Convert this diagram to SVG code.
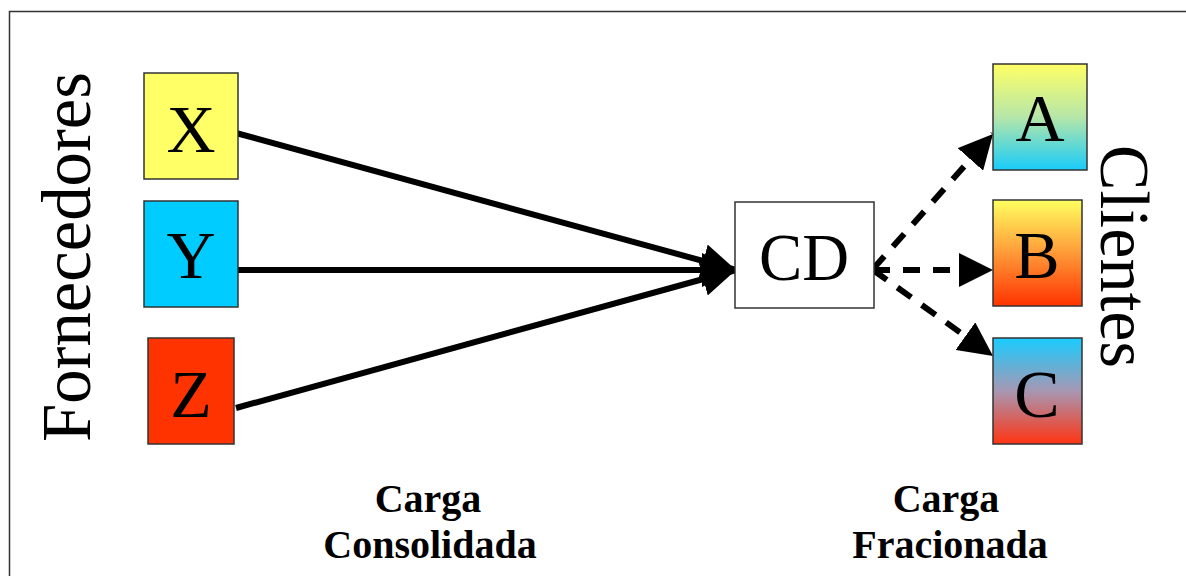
<svg xmlns="http://www.w3.org/2000/svg" width="1186" height="576" viewBox="0 0 1186 576">
  <defs>
    <linearGradient id="gradA" x1="0" y1="0" x2="0" y2="1">
      <stop offset="0" stop-color="#ffff66"/>
      <stop offset="0.5" stop-color="#b6e6a8"/>
      <stop offset="1" stop-color="#19ccf9"/>
    </linearGradient>
    <linearGradient id="gradB" x1="0" y1="0" x2="0" y2="1">
      <stop offset="0" stop-color="#ffff60"/>
      <stop offset="0.5" stop-color="#ff9a38"/>
      <stop offset="1" stop-color="#ff3300"/>
    </linearGradient>
    <linearGradient id="gradC" x1="0" y1="0" x2="0" y2="1">
      <stop offset="0" stop-color="#19ccff"/>
      <stop offset="0.5" stop-color="#a797b3"/>
      <stop offset="1" stop-color="#ff3311"/>
    </linearGradient>
    <marker id="head" viewBox="0 0 10 10" refX="10" refY="5" markerWidth="34" markerHeight="34" markerUnits="userSpaceOnUse" orient="auto">
      <path d="M0,0 L10,5 L0,10 Z" fill="#000"/>
    </marker>
    <style>
      .box { stroke: #333; stroke-width: 1.5; }
      .letter { font-family: "Liberation Serif", "Times New Roman", serif; font-size: 68px; text-anchor: middle; fill: #000; }
      .side { font-family: "Liberation Serif", "Times New Roman", serif; font-size: 70px; fill: #000; }
      .caption { font-family: "Liberation Serif", "Times New Roman", serif; font-size: 40px; font-weight: bold; text-anchor: middle; fill: #000; }
      .solid { stroke: #000; stroke-width: 6; fill: none; marker-end: url(#head); }
      .dashed { stroke: #000; stroke-width: 6; fill: none; stroke-dasharray: 17 13; marker-end: url(#head); }
    </style>
  </defs>

  <rect width="1186" height="576" fill="#fff"/>
  <!-- outer frame (only left and top edges fall inside the canvas) -->
  <rect x="9.5" y="11.5" width="1200" height="600" fill="none" stroke="#333" stroke-width="1.5"/>

  <!-- side titles -->
  <text class="side" transform="translate(90,442) rotate(-90)" textLength="370" lengthAdjust="spacingAndGlyphs">Fornecedores</text>
  <text class="side" transform="translate(1101,145) rotate(90)" textLength="223" lengthAdjust="spacingAndGlyphs">Clientes</text>

  <!-- connectors -->
  <g id="connectors">
    <line class="solid" x1="236" y1="133" x2="736" y2="270"/>
    <line class="solid" x1="233" y1="270" x2="736" y2="270"/>
    <line class="solid" x1="236" y1="408" x2="736" y2="270"/>
    <line class="dashed" x1="873" y1="269" x2="993" y2="134"/>
    <line class="dashed" x1="873" y1="270" x2="993" y2="270"/>
    <line class="dashed" x1="873" y1="270" x2="993" y2="356"/>
  </g>

  <!-- suppliers -->
  <g id="node-x">
    <rect class="box" x="144" y="73" width="94" height="106" fill="#ffff66"/>
    <text class="letter" x="191" y="152">X</text>
  </g>
  <g id="node-y">
    <rect class="box" x="144" y="201" width="94" height="106" fill="#00ccff"/>
    <text class="letter" x="191" y="278">Y</text>
  </g>
  <g id="node-z">
    <rect class="box" x="148" y="338" width="86" height="106" fill="#ff3300"/>
    <text class="letter" x="191" y="417">Z</text>
  </g>

  <!-- distribution centre -->
  <g id="node-cd">
    <rect class="box" x="735" y="202" width="139" height="106" fill="#fff"/>
    <text class="letter" x="804" y="280" textLength="90" lengthAdjust="spacingAndGlyphs">CD</text>
  </g>

  <!-- customers -->
  <g id="node-a">
    <rect class="box" x="993" y="64" width="94" height="106" fill="url(#gradA)"/>
    <text class="letter" x="1040" y="141">A</text>
  </g>
  <g id="node-b">
    <rect class="box" x="993" y="200" width="89" height="106" fill="url(#gradB)"/>
    <text class="letter" x="1037" y="278">B</text>
  </g>
  <g id="node-c">
    <rect class="box" x="993" y="338" width="89" height="106" fill="url(#gradC)"/>
    <text class="letter" x="1037" y="417">C</text>
  </g>

  <!-- load captions -->
  <text class="caption" x="428" y="512">Carga</text>
  <text class="caption" x="430" y="558">Consolidada</text>
  <text class="caption" x="946" y="512">Carga</text>
  <text class="caption" x="950" y="558">Fracionada</text>
</svg>
